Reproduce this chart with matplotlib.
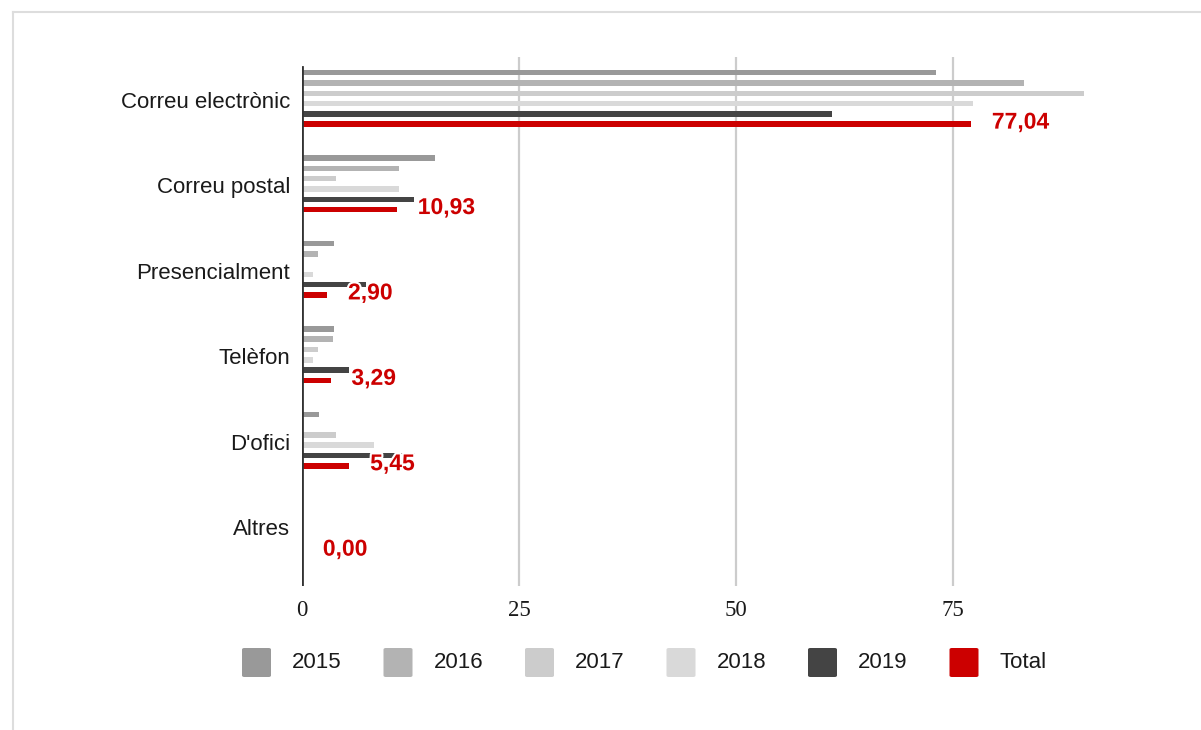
import matplotlib
matplotlib.use("Agg")
import matplotlib.pyplot as plt
import matplotlib.patheffects as pe
from matplotlib.patches import FancyBboxPatch
from matplotlib.lines import Line2D
import numpy as np

categories = ["Correu electrònic", "Correu postal", "Presencialment", "Telèfon", "D'ofici", "Altres"]
series_names = ["2015", "2016", "2017", "2018", "2019", "Total"]
v2015 = [73.0, 15.3, 3.7, 3.7, 2.0, 0.0]
v2016 = [83.1, 11.2, 1.9, 3.6, 0.0, 0.0]
v2017 = [90.0, 3.9, 0.0, 1.9, 3.9, 0.0]
v2018 = [77.3, 11.2, 1.3, 1.3, 8.3, 0.0]
v2019 = [61.0, 12.9, 7.4, 5.4, 13.0, 0.0]
vtotal = [77.04, 10.93, 2.90, 3.29, 5.45, 0.00]
x_ticks = [0, 25, 50, 75]

series = [v2015, v2016, v2017, v2018, v2019, vtotal]
colors = ["#999999", "#b3b3b3", "#cccccc", "#d9d9d9", "#444444", "#cc0000"]

W, H = 1201, 730
fig = plt.figure(figsize=(W / 100, H / 100), dpi=100)
fig.patch.set_facecolor("white")

xmax = 92.0
px_per_unit = (953.3 - 302) / 75.0
ax_left, ax_top, ax_bottom = 302, 57, 586
ax = fig.add_axes([ax_left / W, (H - ax_bottom) / H,
                   xmax * px_per_unit / W, (ax_bottom - ax_top) / H])

y = np.arange(len(categories))
step = 0.1206
bar_h = 0.065
for i, (vals, col) in enumerate(zip(series, colors)):
    off = (i - 2.5) * step - 0.018
    ax.barh(y + off, vals, height=bar_h, color=col, zorder=3)

# data labels for Total
off_total = (5 - 2.5) * step - 0.018
for yi, v in zip(y, vtotal):
    lbl = f"{v:.2f}".replace(".", ",")
    ax.annotate(lbl, xy=(v, yi + off_total), xytext=(15, 1.5), textcoords="offset points",
                ha="left", va="center", color="#cc0000", fontsize=16.5, fontweight="bold",
                family="Liberation Sans", zorder=5,
                path_effects=[pe.withStroke(linewidth=3, foreground="white")])

ax.set_xlim(0, xmax)
ax.set_ylim(5 + (586 - 527) / 85.4, -(100 - 57) / 85.4)
ax.set_yticks(y)
ax.set_yticklabels(categories, family="Liberation Sans", fontsize=16, color="#1a1a1a")
ax.set_xticks(x_ticks)
ax.set_xticklabels([str(t) for t in x_ticks], family="Liberation Serif", fontsize=16.5, color="#1a1a1a")
ax.tick_params(axis="both", length=0)
ax.tick_params(axis="y", pad=8.6)
ax.tick_params(axis="x", pad=10)
for s in ax.spines.values():
    s.set_visible(False)
for t in x_ticks[1:]:
    ax.axvline(t, color="#cccccc", lw=1.6, zorder=1)
ax.axvline(0, ymin=0, ymax=(586 - 67) / (586 - 57), color="#333333", lw=2.0, zorder=4)

# legend
for i, (name, col) in enumerate(zip(series_names, colors)):
    x0 = 242 + i * 141.5
    p = FancyBboxPatch((x0 / W, (H - 677) / H), 29 / W, 29 / H,
                       boxstyle="round,pad=0,rounding_size=0.002",
                       transform=fig.transFigure, facecolor=col, edgecolor="none")
    fig.add_artist(p)
    fig.text((x0 + 50) / W, (H - 662) / H, name, ha="left", va="center",
             family="Liberation Sans", fontsize=16, color="#1a1a1a")

# outer frame lines
fig.add_artist(Line2D([13 / W, 1.0], [(H - 12) / H, (H - 12) / H], transform=fig.transFigure,
                      color="#dddddd", lw=1.5))
fig.add_artist(Line2D([13 / W, 13 / W], [0, (H - 12) / H], transform=fig.transFigure,
                      color="#dddddd", lw=1.5))

fig.savefig("out.png", dpi=100, facecolor="white")
